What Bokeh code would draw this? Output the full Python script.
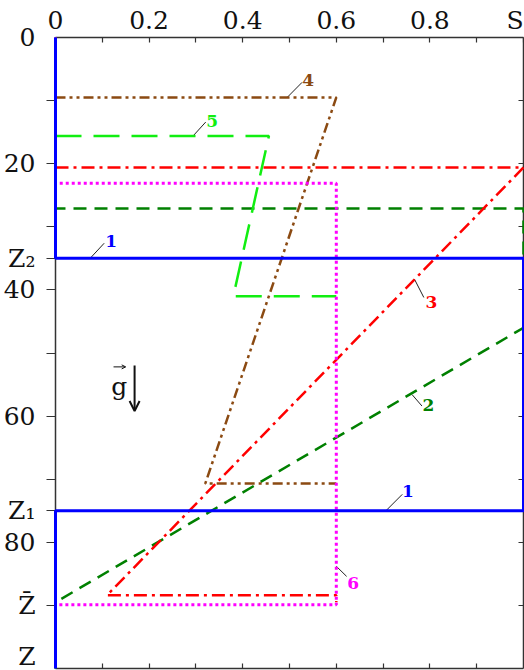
from bokeh.plotting import figure
from bokeh.models import Range1d, LinearAxis, FixedTicker, Arrow, OpenHead
from bokeh.core.properties import value
from bokeh.embed import file_html
from bokeh.resources import INLINE

# Saturation profiles S(z) for the six cases
s1 = [0, 0, 1, 1, 0, 0]
z1 = [0, 35, 35, 75, 75, 100]

s2 = [0, 0, 1, 1, 0, 0]
z2 = [0, 27.1, 27.1, 46.0, 89.5, 100]

s3 = [0, 1, 0.11, 0.6, 0.6]
z3 = [20.6, 20.6, 88.4, 88.4, 89.5]

s4 = [0, 0.6, 0.32, 0.6]
z4 = [9.5, 9.5, 70.7, 70.7]

s5 = [0, 0.456, 0.38, 0.6]
z5 = [15.6, 15.6, 41.0, 41.0]

s6 = [0, 0, 0.6, 0.6, 0, 0]
z6 = [0, 23.1, 23.1, 89.9, 89.9, 100]

# Axis ticks and labels
s_ticks = [0, 0.2, 0.4, 0.6, 0.8, 0.982]
s_tick_labels = ["0", "0.2", "0.4", "0.6", "0.8", "S"]
s_minor = [0.1, 0.2, 0.3, 0.4, 0.5, 0.6, 0.7, 0.8, 0.9, 1.0]
z_ticks = [0, 20, 35, 40, 60, 75, 80, 90, 98.4]
z_tick_labels = ["0", "20", "Z\u2082", "40", "60", "Z\u2081", "80", "Z\u0304", "Z"]
z_minor = [10, 20, 30, 35, 40, 50, 60, 70, 75, 80, 90]
z_right = [10, 20, 30, 40, 50, 60, 70, 80, 90]

SERIF = "DejaVu Serif"

p = figure(width=524, height=670, output_backend="svg", toolbar_location=None,
           x_range=Range1d(0, 1), y_range=Range1d(100, 0),
           x_axis_location=None, y_axis_location=None,
           min_border_left=51, min_border_right=1, min_border_top=37, min_border_bottom=2)
p.grid.visible = False
p.outline_line_color = None
p.background_fill_color = "white"
p.border_fill_color = "white"

AX = "#333333"


def styled(axis):
    axis.axis_line_color = AX
    axis.axis_line_width = 1.5
    axis.major_tick_line_color = AX
    axis.minor_tick_line_color = AX
    axis.major_tick_line_width = 1.2
    axis.minor_tick_line_width = 1.2
    axis.major_label_text_font = SERIF
    axis.major_label_text_font_size = "25px"
    axis.major_label_text_color = "#111111"
    return axis


top = styled(LinearAxis(ticker=FixedTicker(ticks=s_ticks, minor_ticks=s_minor)))
top.major_label_overrides = dict(zip(s_ticks, s_tick_labels))
top.major_tick_in = 0
top.major_tick_out = 0
top.minor_tick_in = 5
top.minor_tick_out = 0
top.major_label_standoff = 3
p.add_layout(top, "above")

left = styled(LinearAxis(ticker=FixedTicker(ticks=z_ticks, minor_ticks=z_minor)))
left.major_label_overrides = dict(zip(z_ticks, z_tick_labels))
left.major_tick_in = 0
left.major_tick_out = 0
left.minor_tick_in = 0
left.minor_tick_out = 9
left.major_label_standoff = 11
p.add_layout(left, "left")

# frame edges: only inward ticks, no labels
right = styled(LinearAxis(ticker=FixedTicker(ticks=[], minor_ticks=z_right)))
right.major_label_standoff = 0
right.minor_tick_in = 5
right.minor_tick_out = 0
p.add_layout(right, "right")

bottom = styled(LinearAxis(ticker=FixedTicker(ticks=[], minor_ticks=s_minor[:-1])))
bottom.major_label_standoff = 0
bottom.minor_tick_in = 5
bottom.minor_tick_out = 0
p.add_layout(bottom, "below")

# profile curves
curves = [
    (s2, z2, "#008000", "13 8", 2.5),
    (s3, z3, "#ff0000", "13 5 3 5", 2.5),
    (s4, z4, "#8b4a12", "10 4 3 4 3 4", 2.5),
    (s5, z5, "#11ee11", "26 12", 2.5),
    (s6, z6, "#ff00ff", "3 3", 3),
    (s1, z1, "#0000ff", "solid", 3),
]
for s, z, color, dash, w in curves:
    p.line(s, z, line_color=color, line_dash=dash, line_width=w, level="overlay")

# curve numbers with leader lines
tags = [
    ("1", 0.119, 32.3, 0.074, 35.0, 0.104, 32.6, "#0000ff"),
    ("1", 0.753, 71.9, 0.706, 75.0, 0.741, 72.4, "#0000ff"),
    ("2", 0.797, 58.3, 0.762, 56.6, 0.783, 58.4, "#008000"),
    ("3", 0.803, 41.9, 0.767, 38.3, 0.787, 41.2, "#ff0000"),
    ("4", 0.540, 6.8, 0.495, 9.5, 0.527, 7.1, "#8b4a12"),
    ("5", 0.335, 13.2, 0.294, 15.6, 0.321, 13.4, "#11ee11"),
    ("6", 0.636, 86.5, 0.600, 83.8, 0.622, 85.4, "#ff00ff"),
]
for t, tx, tz, x0, y0, x1, y1, c in tags:
    p.segment(x0=[x0], y0=[y0], x1=[x1], y1=[y1], line_color="#222222", line_width=1)
    p.text(x=[tx], y=[tz], text=[t], text_color=c, text_font=value(SERIF),
           text_font_style="bold", text_font_size="17px",
           text_align="center", text_baseline="middle")

# gravity vector: g with an overarrow, and a downward arrow beside it
p.text(x=[0.136], y=[55.3], text=["g"], text_color="#111111", text_font=value(SERIF),
       text_font_size="25px", text_align="center", text_baseline="middle")
p.add_layout(Arrow(x_start=0.124, y_start=52.2, x_end=0.150, y_end=52.2,
                   line_color="#111111", line_width=1,
                   end=OpenHead(size=4, line_width=1, line_color="#111111")))
p.add_layout(Arrow(x_start=0.169, y_start=52.0, x_end=0.169, y_end=59.2,
                   line_color="#111111", line_width=2,
                   end=OpenHead(size=10, line_width=2, line_color="#111111")))

open("out.html", "w").write(file_html(p, INLINE))
